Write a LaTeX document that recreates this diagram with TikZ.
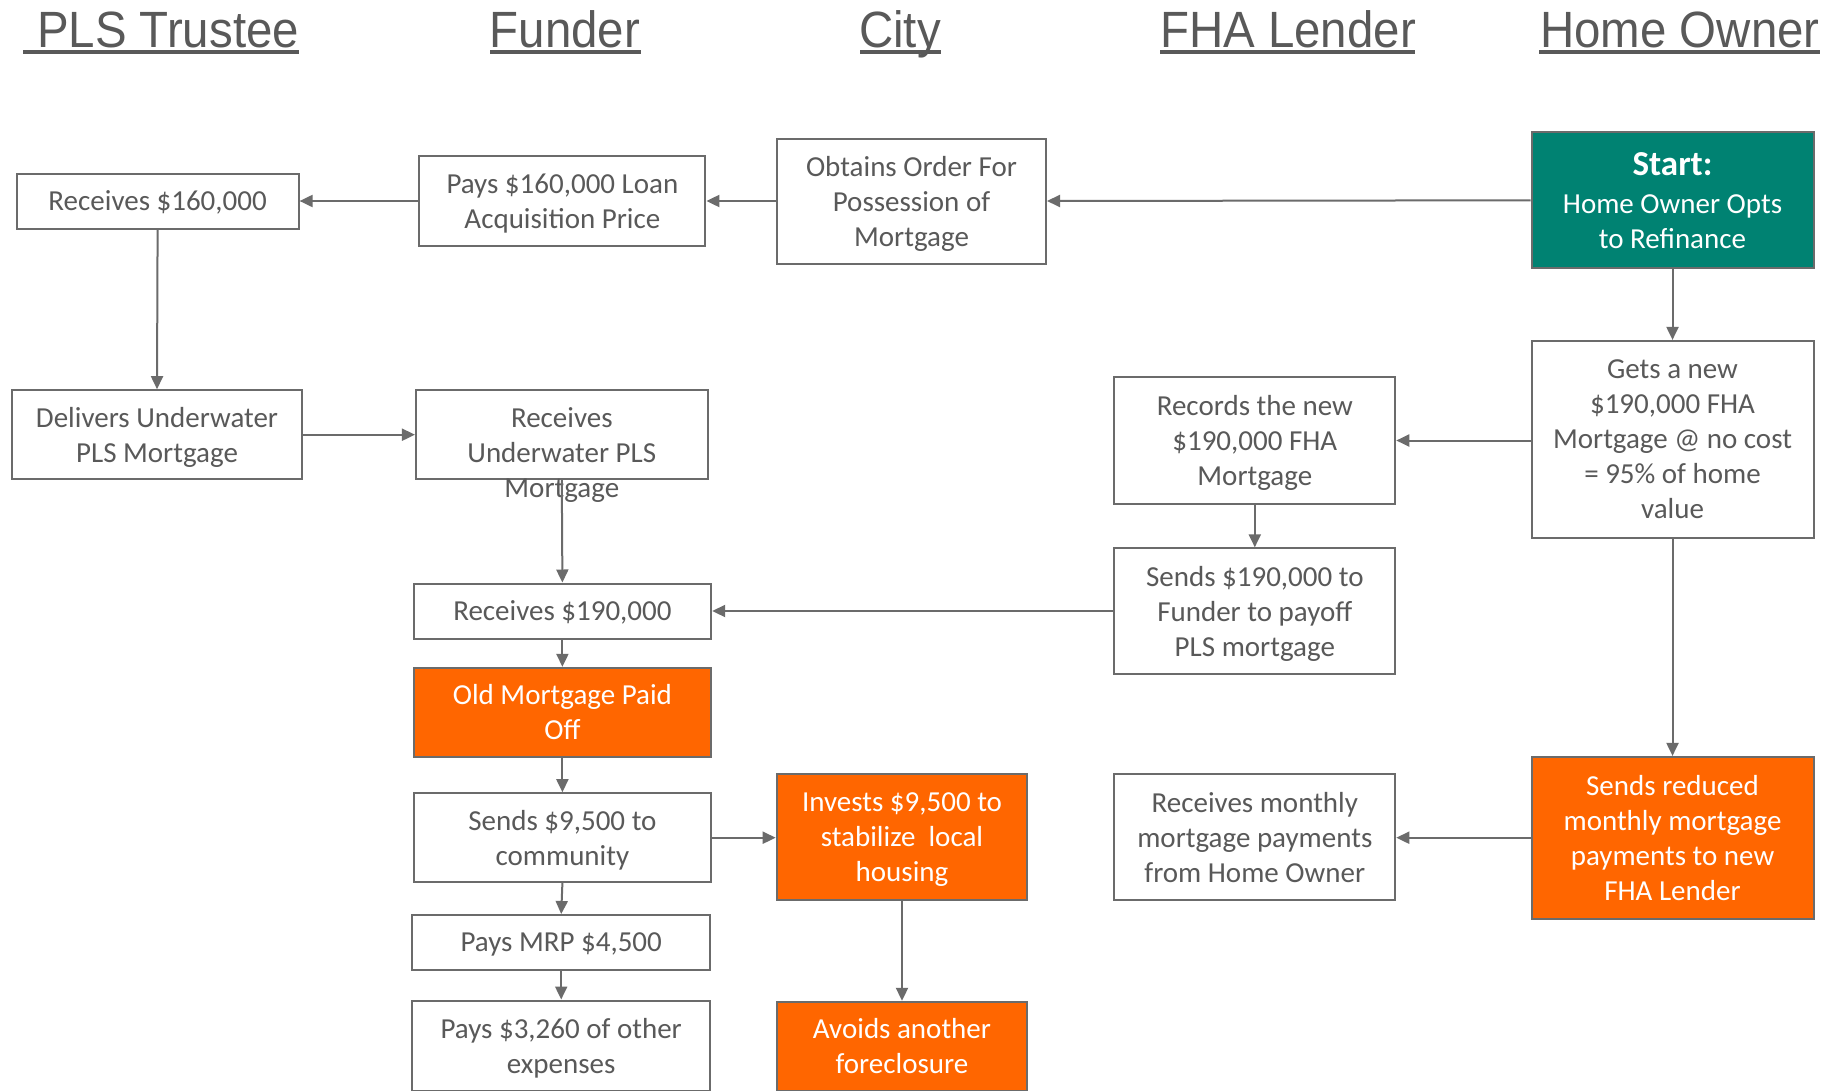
\documentclass[tikz,border=0pt]{standalone}
\usepackage{fontspec}
\setmainfont{Carlito}
\newfontfamily\hdrfont{Liberation Sans}
\usetikzlibrary{arrows.meta,calc}
\definecolor{txtgray}{HTML}{595959}
\definecolor{bordergray}{HTML}{6B6B6B}
\definecolor{teal}{HTML}{008272}
\definecolor{orng}{HTML}{FF6600}
\tikzset{
  box/.style={draw=bordergray, line width=2pt, fill=white, text=txtgray, align=center,
    inner sep=0pt, text depth=0pt, font=\fontsize{29}{35}\selectfont},
  obox/.style={box, fill=orng, text=white},
  tbox/.style={box, fill=teal, text=white},
  bare/.style={text=txtgray, align=center, inner sep=0pt, text depth=0pt, font=\fontsize{29}{35}\selectfont},
  hdr/.style={text=txtgray, anchor=base, inner sep=0pt, font=\hdrfont\fontsize{51}{60}\selectfont},
  uline/.style={draw=txtgray, line width=3.5pt},
  arr/.style={draw=bordergray, line width=2pt, -{Triangle[length=13pt,width=12pt]}},
}
\begin{document}
\begin{tikzpicture}[x=1pt,y=-1pt]
\useasboundingbox[fill=white] (0,0) rectangle (1837,1090);
% headers
\node[hdr] (h1) at (168,47) {\scalebox{0.93}[1]{PLS Trustee}};
\node[hdr] (h2) at (565,47) {\scalebox{0.93}[1]{Funder}};
\node[hdr] (h3) at (900,47) {\scalebox{0.93}[1]{City}};
\node[hdr] (h4) at (1288,47) {\scalebox{0.93}[1]{FHA Lender}};
\node[hdr] (h5) at (1680,47) {\scalebox{0.93}[1]{Home Owner}};
\draw[uline] (23,52) -- (299,52);
\draw[uline] (490,52) -- (641,52);
\draw[uline] (860,52) -- (941,52);
\draw[uline] (1160,52) -- (1415,52);
\draw[uline] (1539,52) -- (1820,52);
% boxes
\node[box, minimum width=282, minimum height=55] (r160) at (157.6,201) {Receives \$160,000};
\node[box, minimum width=286, minimum height=90] (pays160) at (562.4,201) {Pays \$160,000 Loan\\Acquisition Price};
\node[box, minimum width=269, minimum height=125] (obtains) at (911.5,201) {Obtains Order For\\Possession of\\Mortgage};
\node[tbox, text depth=-4pt, minimum width=282, minimum height=136] (start) at (1672.5,200.3) {{\fontsize{35}{40}\selectfont\bfseries Start:}\\[3pt]Home Owner Opts\\to Refinance};
\node[box, minimum width=282, minimum height=197] (gets) at (1672.5,439.4) {Gets a new\\\$190,000 FHA\\Mortgage @ no cost\\= 95\% of home\\value};
\node[box, minimum width=290.6, minimum height=89] (delivers) at (157,434.7) {Delivers Underwater\\PLS Mortgage};
\node[box, minimum width=291.7, minimum height=89] (runder) at (561.8,434.7) {};
\node[bare] (runderT) at ($(runder.center)+(0,17.5)$) {Receives\\Underwater PLS\\Mortgage};
\node[box, minimum width=281, minimum height=126.5] (records) at (1254.8,440.5) {Records the new\\\$190,000 FHA\\Mortgage};
\node[box, minimum width=281, minimum height=125.4] (sends190) at (1254.8,611) {Sends \$190,000 to\\Funder to payoff\\PLS mortgage};
\node[box, minimum width=297.6, minimum height=55] (r190) at (562.4,611) {Receives \$190,000};
\node[obox, minimum width=297.6, minimum height=89] (oldpaid) at (562.4,712.3) {Old Mortgage Paid\\Off};
\node[box, minimum width=297.6, minimum height=89] (sends95) at (562.4,837.7) {Sends \$9,500 to\\community};
\node[obox, minimum width=250.7, minimum height=125.4] (invests) at (902,837.1) {Invests \$9,500 to\\stabilize\ \ local\\housing};
\node[box, minimum width=281, minimum height=125.4] (rmonthly) at (1254.8,837.1) {Receives monthly\\mortgage payments\\from Home Owner};
\node[obox, minimum width=282, minimum height=161.6] (sredu) at (1672.5,837.7) {Sends reduced\\monthly mortgage\\payments to new\\FHA Lender};
\node[box, minimum width=297.6, minimum height=55] (mrp) at (561.2,942.5) {Pays MRP \$4,500};
\node[box, minimum width=297.6, minimum height=90] (pays3260) at (561.2,1045.5) {Pays \$3,260 of other\\expenses};
\node[obox, minimum width=250.7, minimum height=89] (avoids) at (902,1046.3) {Avoids another\\foreclosure};
% connectors
\draw[arr] (start.west) -- (obtains.east);
\draw[arr] (obtains.west) -- (pays160.east);
\draw[arr] (pays160.west) -- (r160.east);
\draw[arr] (r160.south) -- (delivers.north);
\draw[arr] (delivers.east) -- (runder.west);
\draw[arr] (runder.south) -- (r190.north);
\draw[arr] (start.south) -- (gets.north);
\draw[arr] (gets.west |- records.east) -- (records.east);
\draw[arr] (records.south) -- (sends190.north);
\draw[arr] (sends190.west) -- (r190.east);
\draw[arr] (r190.south) -- (oldpaid.north);
\draw[arr] (oldpaid.south) -- (sends95.north);
\draw[arr] (sends95.east) -- (invests.west |- sends95.east);
\draw[arr] (sends95.south) -- (mrp.north);
\draw[arr] (mrp.south) -- (pays3260.north);
\draw[arr] (invests.south) -- (avoids.north);
\draw[arr] (gets.south) -- (sredu.north);
\draw[arr] (sredu.west) -- (rmonthly.east |- sredu.west);
\end{tikzpicture}
\end{document}
